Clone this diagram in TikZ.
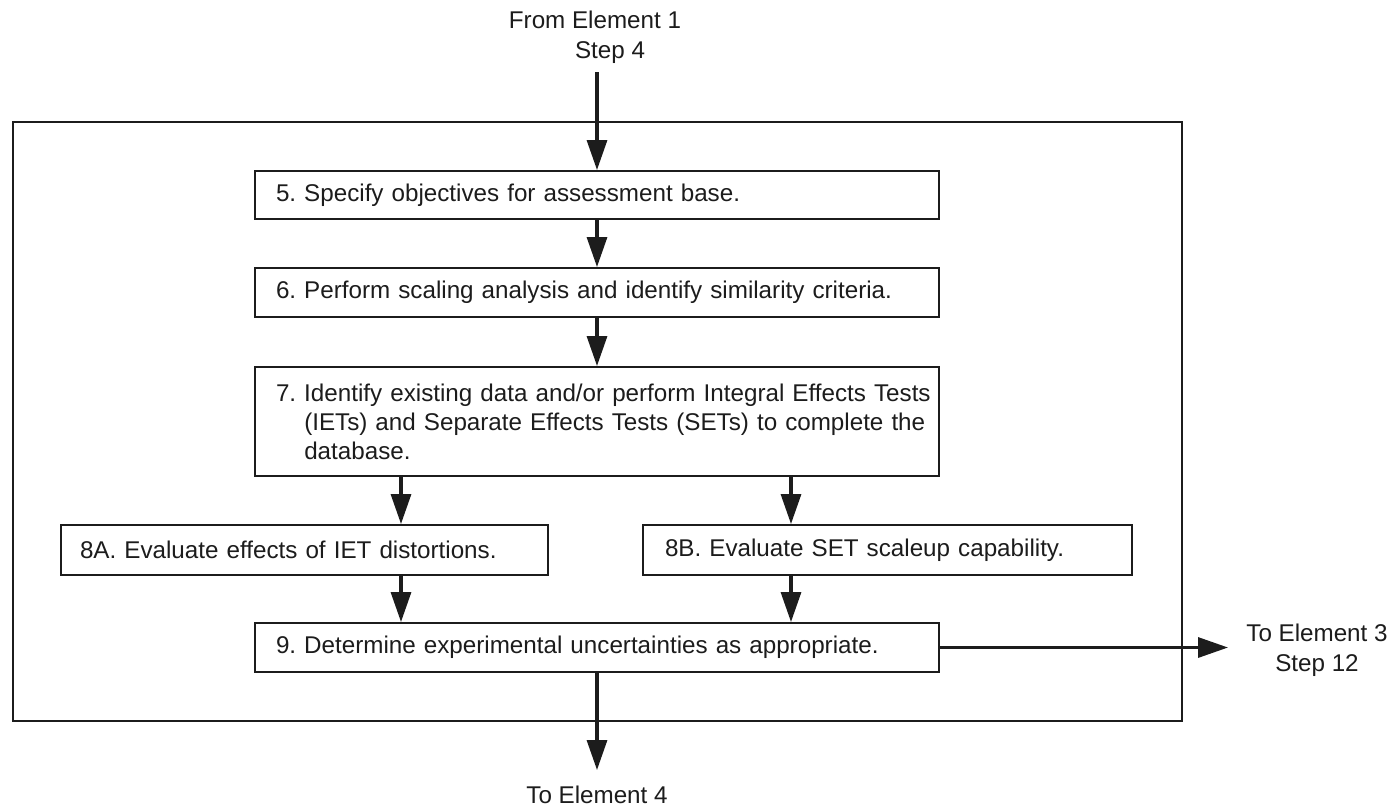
\documentclass[tikz,border=0pt]{standalone}
\usepackage{fontspec}
\setmainfont{Liberation Sans}
\usetikzlibrary{arrows.meta}
\definecolor{ink}{RGB}{28,28,28}
\frenchspacing
\begin{document}
\begin{tikzpicture}[x=0.5pt,y=-0.5pt,
  every node/.style={text=ink, font=\fontsize{12.1}{14.5}\selectfont},
  stepbox/.style={draw=ink, line width=1pt, inner xsep=10.5pt, inner ysep=0pt, align=left},
  flow/.style={draw=ink, line width=1.6pt, -{Triangle[length=15pt,width=10pt]}},
  outline/.style={draw=ink, line width=1pt, inner sep=0pt},
  lbl/.style={inner sep=0pt, align=center, font=\fontsize{12.1}{15}\selectfont}]
\useasboundingbox (0,0) rectangle (1397,805);
\fill[white] (0,0) rectangle (1397,805);

% enclosing panel
\node[outline, minimum width=584.75pt, minimum height=299.5pt] (panel) at (597.25,421.5) {};

% process steps
\node[stepbox, text width=321pt, minimum height=24pt] (s5) at (597,195)
  {5. Specify objectives for assessment base.};
\node[stepbox, text width=321pt, minimum height=24.5pt] (s6) at (597,292.5)
  {6. Perform scaling analysis and identify similarity criteria.};
\node[stepbox, text width=321pt, minimum height=54.5pt] (s7) at (597,421.5)
  {\makebox[321pt][l]{7.\ \parbox[t]{318pt}{Identify existing data and/or perform Integral Effects Tests\\(IETs) and Separate Effects Tests (SETs) to complete the\\database.}}};
\node[stepbox, inner xsep=9.5pt, text width=224.5pt, minimum height=25pt] (s8a) at (304.5,550)
  {8A. Evaluate effects of IET distortions.};
\node[stepbox, inner xsep=11pt, text width=222.5pt, minimum height=25pt] (s8b) at (887.5,550)
  {8B. Evaluate SET scaleup capability.};
\node[stepbox, text width=321pt, minimum height=24.5pt] (s9) at (597,647.5)
  {9. Determine experimental uncertainties as appropriate.};

% external links
\node[lbl, anchor=north] (srcLabel) at (595,10.7) {From Element 1\\\hspace*{15pt}Step 4};
\node[lbl, anchor=north] (e3Label) at (1317,623.3) {To Element 3\\Step 12};
\node[lbl, anchor=base] (e4Label) at (597,803) {To Element 4};

\coordinate (fromE1) at (597,72);
\coordinate (toE3) at (1228,647.5);
\coordinate (toE4) at (597,770);
\coordinate (colA) at (401,0);
\coordinate (colB) at (791,0);

% connectors
\draw[flow] (fromE1) -- (s5.north);
\draw[flow] (s5) -- (s6);
\draw[flow] (s6) -- (s7);
\draw[flow] (s7.south -| colA) -- (s8a.north -| colA);
\draw[flow] (s7.south -| colB) -- (s8b.north -| colB);
\draw[flow] (s8a.south -| colA) -- (s9.north -| colA);
\draw[flow] (s8b.south -| colB) -- (s9.north -| colB);
\draw[flow] (s9) -- (toE3);
\draw[flow] (s9) -- (toE4);
\end{tikzpicture}
\end{document}
